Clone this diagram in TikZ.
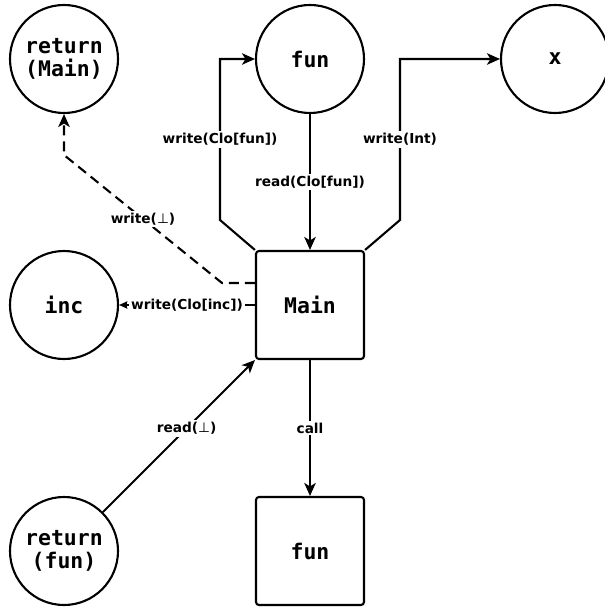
\documentclass[tikz,border=0pt]{standalone}
\usepackage{fontspec}
\setmainfont{DejaVu Sans}
\newfontfamily\codefont{DejaVu Sans Mono}
\usetikzlibrary{arrows.meta}
\newcommand{\bottomsym}{{\fontseries{m}\selectfont ⊥}}
\tikzset{
  every picture/.style={line width=2.1pt},
  place/.style={circle, draw, minimum size=108pt, inner sep=0pt, align=center,
    font=\codefont\bfseries\fontsize{21.5}{23}\selectfont},
  proc/.style={rectangle, draw, rounded corners=3pt, minimum size=108pt, inner sep=0pt,
    font=\codefont\bfseries\fontsize{21.5}{23}\selectfont},
  flow/.style={-{Stealth[length=13pt,width=11.5pt,inset=3.5pt]}},
  smallflow/.style={-{Stealth[length=8pt,width=7pt,inset=0.5pt]}},
  lbl/.style={fill=white, inner sep=2pt, font=\bfseries\fontsize{13.7}{15}\selectfont},
  wdash/.style={dash pattern=on 10pt off 6pt},
}
\begin{document}
\begin{tikzpicture}[x=1pt,y=-1pt]
\useasboundingbox (0,0) rectangle (604,609);

% places
\node[place] (retMain) at (64,59) {return\\(Main)};
\node[place] (funP)    at (310,59) {fun};
\node[place] (xP)      at (555,59) {x};
\node[place] (incP)    at (64,305) {inc};
\node[place] (retFun)  at (64,551) {return\\(fun)};

% processes
\node[proc] (main) at (310,305) {Main};
\node[proc] (funB) at (310,551) {fun};

% bend points
\coordinate (wfA) at (220,220);
\coordinate (wfB) at (220,59);
\coordinate (wiA) at (400,220);
\coordinate (wiB) at (400,59);
\coordinate (wbS) at ([yshift=22pt]main.west);
\coordinate (wbA) at (222,283);
\coordinate (wbB) at (64,155);

% connectors
\draw[flow] (main.north west) -- (wfA) -- node[lbl, pos=0.5] {write(Clo[fun])} (wfB) -- (funP.west);
\draw[flow] (funP.south) -- node[lbl] {read(Clo[fun])} (main.north);
\draw[flow] (main.north east) -- (wiA) -- node[lbl, pos=0.5] {write(Int)} (wiB) -- (xP.west);
\draw[flow, wdash] (wbS) -- (wbA) -- node[lbl] {write(\bottomsym)} (wbB) -- (retMain.south);
\draw[smallflow] (main.west) -- node[lbl] {write(Clo[inc])} (incP.east);
\draw[flow] (retFun) -- node[lbl, pos=0.55] {read(\bottomsym)} (main.south west);
\draw[flow] (main.south) -- node[lbl] {call} (funB.north);
\end{tikzpicture}
\end{document}
